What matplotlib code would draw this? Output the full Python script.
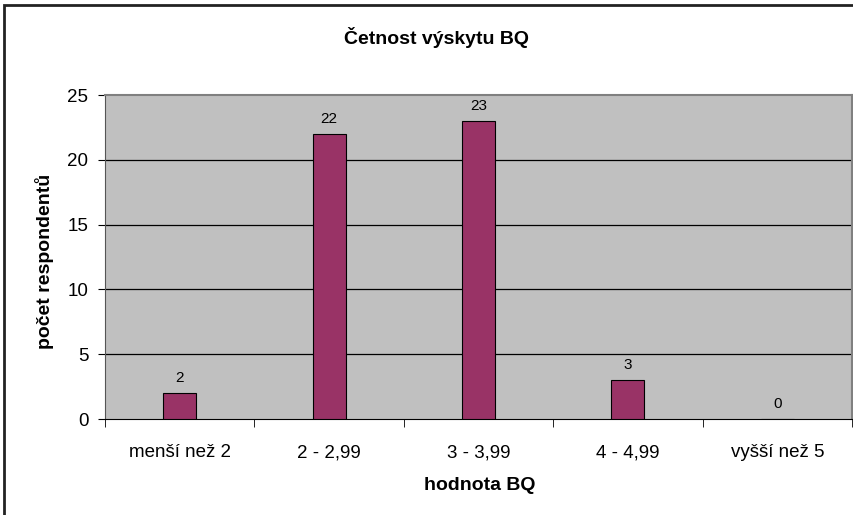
import numpy as np
import matplotlib.pyplot as plt
from matplotlib.patches import Rectangle

plt.rcParams['font.family'] = ['Liberation Sans', 'DejaVu Sans']

categories = ["menší než 2", "2 - 2,99", "3 - 3,99", "4 - 4,99", "vyšší než 5"]
counts = [2, 22, 23, 3, 0]
yticks = [0, 5, 10, 15, 20, 25]

fig = plt.figure(figsize=(8.54, 5.15), dpi=100)
fig.patch.set_facecolor("white")

# outer chart border (cut off at right/bottom like the original)
fig.patches.append(Rectangle((4/854, -0.05), 1.05, 1 - 5/515 + 0.05,
                             transform=fig.transFigure, fill=False,
                             edgecolor="#222222", linewidth=2))

ax = fig.add_axes([105/854, 1 - 419/515, 747/854, 324/515])
ax.set_facecolor("#C0C0C0")

x = np.arange(len(categories))
ax.bar(x, counts, width=0.22, color="#993366", edgecolor="black", linewidth=0.8, zorder=3)

for xi, v in zip(x, counts):
    ax.text(xi, v + 0.6, str(v), ha="center", va="bottom", fontsize=11, zorder=4)

ax.set_xlim(-0.5, len(categories) - 0.5)
ax.set_ylim(0, 25)
ax.set_yticks(yticks)
ax.tick_params(axis="y", labelsize=13.5, length=5, direction="out", pad=7)
ax.set_xticks(x)
ax.set_xticklabels(categories)
ax.set_xticks(np.arange(len(categories) + 1) - 0.5, minor=True)
ax.tick_params(axis="x", which="major", length=0, labelsize=13.5, pad=18)
ax.tick_params(axis="x", which="minor", length=6, direction="out")

for t in yticks[1:-1]:
    ax.axhline(t, color="black", linewidth=0.9, zorder=1)

ax.spines["top"].set_color("#808080")
ax.spines["top"].set_linewidth(1.5)
ax.spines["right"].set_color("#808080")
ax.spines["right"].set_linewidth(1.5)
ax.spines["left"].set_color("#555555")
ax.spines["bottom"].set_color("black")

fig.text(437/854, 1 - 38/515, "Četnost výskytu BQ", fontsize=14, fontweight="bold",
         ha="center", va="center")
fig.text(480/854, 1 - 486/515, "hodnota BQ", fontsize=14, fontweight="bold",
         ha="center", va="center")
fig.text(45/854, 1 - 261/515, "počet respondentů", fontsize=14, fontweight="bold",
         ha="center", va="center", rotation=90)

fig.savefig("out.png", dpi=100)
